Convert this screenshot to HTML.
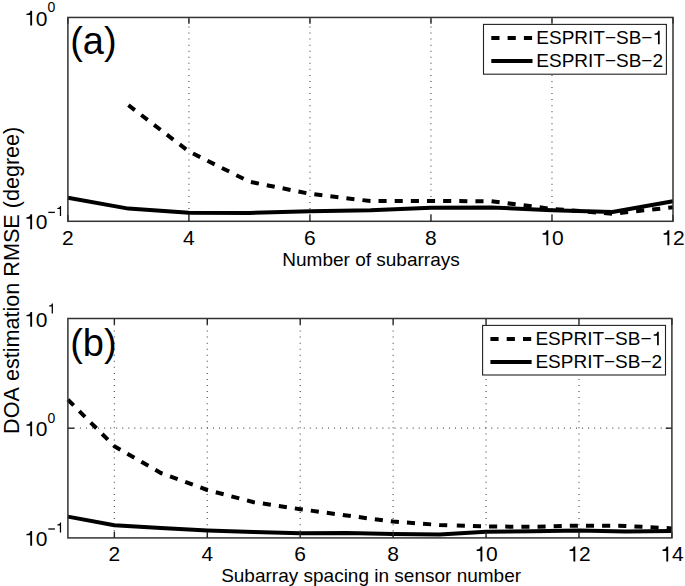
<!DOCTYPE html><html><head><meta charset="utf-8"><style>html,body{margin:0;padding:0;background:#fff;width:685px;height:586px;overflow:hidden}svg{display:block}text{font-family:"Liberation Sans",sans-serif;fill:#000;font-kerning:none}</style></head><body>
<svg width="685" height="586" viewBox="0 0 685 586">
<rect width="685" height="586" fill="#fff"/>
<line x1="188.92" y1="20.45" x2="188.92" y2="221.30" stroke="#555" stroke-width="1.2" stroke-dasharray="1 5.05"/>
<line x1="309.94" y1="20.45" x2="309.94" y2="221.30" stroke="#555" stroke-width="1.2" stroke-dasharray="1 5.05"/>
<line x1="430.96" y1="20.45" x2="430.96" y2="221.30" stroke="#555" stroke-width="1.2" stroke-dasharray="1 5.05"/>
<line x1="551.98" y1="20.45" x2="551.98" y2="221.30" stroke="#555" stroke-width="1.2" stroke-dasharray="1 5.05"/>
<line x1="114.36" y1="318.45" x2="114.36" y2="537.90" stroke="#555" stroke-width="1.2" stroke-dasharray="1 5.05"/>
<line x1="207.28" y1="318.45" x2="207.28" y2="537.90" stroke="#555" stroke-width="1.2" stroke-dasharray="1 5.05"/>
<line x1="300.21" y1="318.45" x2="300.21" y2="537.90" stroke="#555" stroke-width="1.2" stroke-dasharray="1 5.05"/>
<line x1="393.13" y1="318.45" x2="393.13" y2="537.90" stroke="#555" stroke-width="1.2" stroke-dasharray="1 5.05"/>
<line x1="486.05" y1="318.45" x2="486.05" y2="537.90" stroke="#555" stroke-width="1.2" stroke-dasharray="1 5.05"/>
<line x1="578.98" y1="318.45" x2="578.98" y2="537.90" stroke="#555" stroke-width="1.2" stroke-dasharray="1 5.05"/>
<line x1="67.80" y1="428.20" x2="671.90" y2="428.20" stroke="#555" stroke-width="1.2" stroke-dasharray="1 5.05"/>
<polyline points="67.90,197.80 128.41,208.60 188.92,212.70 249.43,213.00 309.94,211.20 370.45,210.20 430.96,207.70 491.47,207.40 551.98,210.20 612.49,212.00 673.00,201.30" fill="none" stroke="#000" stroke-width="4.0" stroke-linejoin="round"/>
<polyline points="128.41,105.20 188.92,151.50 249.43,181.70 309.94,193.80 370.45,201.10 430.96,200.90 491.47,201.30 551.98,208.90 612.49,213.70 673.00,207.30" fill="none" stroke="#000" stroke-width="4.0" stroke-dasharray="8.1 8.05" stroke-linejoin="round"/>
<polyline points="67.90,516.60 114.36,525.30 160.82,528.00 207.28,530.50 253.75,532.00 300.21,533.20 346.67,533.00 393.13,534.00 439.59,534.60 486.05,531.80 532.52,531.20 578.98,530.60 625.44,531.60 671.90,531.00" fill="none" stroke="#000" stroke-width="4.0" stroke-linejoin="round"/>
<polyline points="67.90,399.70 114.36,446.20 160.82,473.00 207.28,490.00 253.75,502.20 300.21,509.20 346.67,515.50 393.13,521.60 439.59,525.00 451.24,525.35" fill="none" stroke="#000" stroke-width="4.0" stroke-dasharray="8.1 8.05" stroke-linejoin="round"/>
<polyline points="451.24,525.35 486.05,526.40 532.52,526.90 578.98,525.60 625.44,525.90 671.90,528.40" fill="none" stroke="#000" stroke-width="4.0" stroke-dasharray="8.1 8.05" stroke-dashoffset="414.35" stroke-linejoin="round"/>
<line x1="67.90" y1="221.30" x2="67.90" y2="215.10" stroke="#222" stroke-width="1.4"/>
<line x1="67.90" y1="17.45" x2="67.90" y2="23.65" stroke="#222" stroke-width="1.4"/>
<line x1="188.92" y1="221.30" x2="188.92" y2="215.10" stroke="#222" stroke-width="1.4"/>
<line x1="188.92" y1="17.45" x2="188.92" y2="23.65" stroke="#222" stroke-width="1.4"/>
<line x1="309.94" y1="221.30" x2="309.94" y2="215.10" stroke="#222" stroke-width="1.4"/>
<line x1="309.94" y1="17.45" x2="309.94" y2="23.65" stroke="#222" stroke-width="1.4"/>
<line x1="430.96" y1="221.30" x2="430.96" y2="215.10" stroke="#222" stroke-width="1.4"/>
<line x1="430.96" y1="17.45" x2="430.96" y2="23.65" stroke="#222" stroke-width="1.4"/>
<line x1="551.98" y1="221.30" x2="551.98" y2="215.10" stroke="#222" stroke-width="1.4"/>
<line x1="551.98" y1="17.45" x2="551.98" y2="23.65" stroke="#222" stroke-width="1.4"/>
<line x1="673.00" y1="221.30" x2="673.00" y2="215.10" stroke="#222" stroke-width="1.4"/>
<line x1="673.00" y1="17.45" x2="673.00" y2="23.65" stroke="#222" stroke-width="1.4"/>
<rect x="67.90" y="17.45" width="605.10" height="203.85" fill="none" stroke="#333" stroke-width="1.5"/>
<line x1="114.36" y1="537.90" x2="114.36" y2="531.70" stroke="#222" stroke-width="1.4"/>
<line x1="114.36" y1="318.50" x2="114.36" y2="324.70" stroke="#222" stroke-width="1.4"/>
<line x1="207.28" y1="537.90" x2="207.28" y2="531.70" stroke="#222" stroke-width="1.4"/>
<line x1="207.28" y1="318.50" x2="207.28" y2="324.70" stroke="#222" stroke-width="1.4"/>
<line x1="300.21" y1="537.90" x2="300.21" y2="531.70" stroke="#222" stroke-width="1.4"/>
<line x1="300.21" y1="318.50" x2="300.21" y2="324.70" stroke="#222" stroke-width="1.4"/>
<line x1="393.13" y1="537.90" x2="393.13" y2="531.70" stroke="#222" stroke-width="1.4"/>
<line x1="393.13" y1="318.50" x2="393.13" y2="324.70" stroke="#222" stroke-width="1.4"/>
<line x1="486.05" y1="537.90" x2="486.05" y2="531.70" stroke="#222" stroke-width="1.4"/>
<line x1="486.05" y1="318.50" x2="486.05" y2="324.70" stroke="#222" stroke-width="1.4"/>
<line x1="578.98" y1="537.90" x2="578.98" y2="531.70" stroke="#222" stroke-width="1.4"/>
<line x1="578.98" y1="318.50" x2="578.98" y2="324.70" stroke="#222" stroke-width="1.4"/>
<line x1="671.90" y1="537.90" x2="671.90" y2="531.70" stroke="#222" stroke-width="1.4"/>
<line x1="671.90" y1="318.50" x2="671.90" y2="324.70" stroke="#222" stroke-width="1.4"/>
<line x1="67.90" y1="428.20" x2="74.10" y2="428.20" stroke="#222" stroke-width="1.4"/>
<line x1="671.90" y1="428.20" x2="665.70" y2="428.20" stroke="#222" stroke-width="1.4"/>
<rect x="67.90" y="318.50" width="604.00" height="219.40" fill="none" stroke="#333" stroke-width="1.5"/>
<text x="62.06" y="245.20" font-size="21" >2</text>
<text x="183.08" y="245.20" font-size="21" >4</text>
<text x="304.10" y="245.20" font-size="21" >6</text>
<text x="425.12" y="245.20" font-size="21" >8</text>
<text x="540.30" y="245.20" font-size="21" >&#8199;0</text><path d="M380 0L290 0L290 500L110 500L110 565C241 582 281 607 302 709L380 709Z" transform="translate(540.30,245.20) scale(0.0210,-0.0210)"/>
<text x="661.32" y="245.20" font-size="21" >&#8199;2</text><path d="M380 0L290 0L290 500L110 500L110 565C241 582 281 607 302 709L380 709Z" transform="translate(661.32,245.20) scale(0.0210,-0.0210)"/>
<text x="108.52" y="561.40" font-size="21" >2</text>
<text x="201.45" y="561.40" font-size="21" >4</text>
<text x="294.37" y="561.40" font-size="21" >6</text>
<text x="387.29" y="561.40" font-size="21" >8</text>
<text x="474.37" y="561.40" font-size="21" >&#8199;0</text><path d="M380 0L290 0L290 500L110 500L110 565C241 582 281 607 302 709L380 709Z" transform="translate(474.37,561.40) scale(0.0210,-0.0210)"/>
<text x="567.30" y="561.40" font-size="21" >&#8199;2</text><path d="M380 0L290 0L290 500L110 500L110 565C241 582 281 607 302 709L380 709Z" transform="translate(567.30,561.40) scale(0.0210,-0.0210)"/>
<text x="660.22" y="561.40" font-size="21" >&#8199;4</text><path d="M380 0L290 0L290 500L110 500L110 565C241 582 281 607 302 709L380 709Z" transform="translate(660.22,561.40) scale(0.0210,-0.0210)"/>
<text x="24.14" y="25.60" font-size="21" >&#8199;0</text><path d="M380 0L290 0L290 500L110 500L110 565C241 582 281 607 302 709L380 709Z" transform="translate(24.14,25.60) scale(0.0210,-0.0210)"/><text x="47.60" y="12.30" font-size="14" >0</text>
<text x="24.14" y="229.20" font-size="21" >&#8199;0</text><path d="M380 0L290 0L290 500L110 500L110 565C241 582 281 607 302 709L380 709Z" transform="translate(24.14,229.20) scale(0.0210,-0.0210)"/><rect x="48.3" y="211.75" width="6.6" height="1.3"/><text x="55.78" y="215.90" font-size="14" >&#8199;</text><path d="M380 0L290 0L290 500L110 500L110 565C241 582 281 607 302 709L380 709Z" transform="translate(55.78,215.90) scale(0.0140,-0.0140)"/>
<text x="24.14" y="326.80" font-size="21" >&#8199;0</text><path d="M380 0L290 0L290 500L110 500L110 565C241 582 281 607 302 709L380 709Z" transform="translate(24.14,326.80) scale(0.0210,-0.0210)"/><text x="47.60" y="313.50" font-size="14" >&#8199;</text><path d="M380 0L290 0L290 500L110 500L110 565C241 582 281 607 302 709L380 709Z" transform="translate(47.60,313.50) scale(0.0140,-0.0140)"/>
<text x="24.14" y="436.30" font-size="21" >&#8199;0</text><path d="M380 0L290 0L290 500L110 500L110 565C241 582 281 607 302 709L380 709Z" transform="translate(24.14,436.30) scale(0.0210,-0.0210)"/><text x="47.60" y="423.00" font-size="14" >0</text>
<text x="24.14" y="545.80" font-size="21" >&#8199;0</text><path d="M380 0L290 0L290 500L110 500L110 565C241 582 281 607 302 709L380 709Z" transform="translate(24.14,545.80) scale(0.0210,-0.0210)"/><rect x="48.3" y="528.35" width="6.6" height="1.3"/><text x="55.78" y="532.50" font-size="14" >&#8199;</text><path d="M380 0L290 0L290 500L110 500L110 565C241 582 281 607 302 709L380 709Z" transform="translate(55.78,532.50) scale(0.0140,-0.0140)"/>
<text x="371" y="265.7" font-size="19" text-anchor="middle">Number of subarrays</text>
<text x="371.1" y="581.9" font-size="19" text-anchor="middle">Subarray spacing in sensor number</text>
<text transform="translate(18.6,280.3) rotate(-90)" x="0" y="0" font-size="21.6" text-anchor="middle">DOA estimation RMSE (degree)</text>
<text x="70.2" y="53.6" font-size="38">(a)</text>
<text x="70.2" y="355.9" font-size="38">(b)</text>
<rect x="483.50" y="24.40" width="182.9" height="49.80" fill="#fff" stroke="#222" stroke-width="1.1"/>
<line x1="491.30" y1="38.00" x2="532.50" y2="38.00" stroke="#000" stroke-width="4" stroke-dasharray="8.2 8.1"/>
<line x1="491.30" y1="60.90" x2="532.50" y2="60.90" stroke="#000" stroke-width="4"/>
<text x="536.30" y="44.30" font-size="19" >ESPRIT&#8722;SB&#8722;&#8199;</text><path d="M380 0L290 0L290 500L110 500L110 565C241 582 281 607 302 709L380 709Z" transform="translate(652.46,44.30) scale(0.0190,-0.0190)"/>
<text x="536.30" y="67.00" font-size="19" >ESPRIT&#8722;SB&#8722;2</text>
<rect x="482.60" y="325.40" width="182.9" height="49.60" fill="#fff" stroke="#222" stroke-width="1.1"/>
<line x1="490.40" y1="339.00" x2="531.60" y2="339.00" stroke="#000" stroke-width="4" stroke-dasharray="8.2 8.1"/>
<line x1="490.40" y1="361.90" x2="531.60" y2="361.90" stroke="#000" stroke-width="4"/>
<text x="535.40" y="345.30" font-size="19" >ESPRIT&#8722;SB&#8722;&#8199;</text><path d="M380 0L290 0L290 500L110 500L110 565C241 582 281 607 302 709L380 709Z" transform="translate(651.56,345.30) scale(0.0190,-0.0190)"/>
<text x="535.40" y="368.00" font-size="19" >ESPRIT&#8722;SB&#8722;2</text>
</svg></body></html>
